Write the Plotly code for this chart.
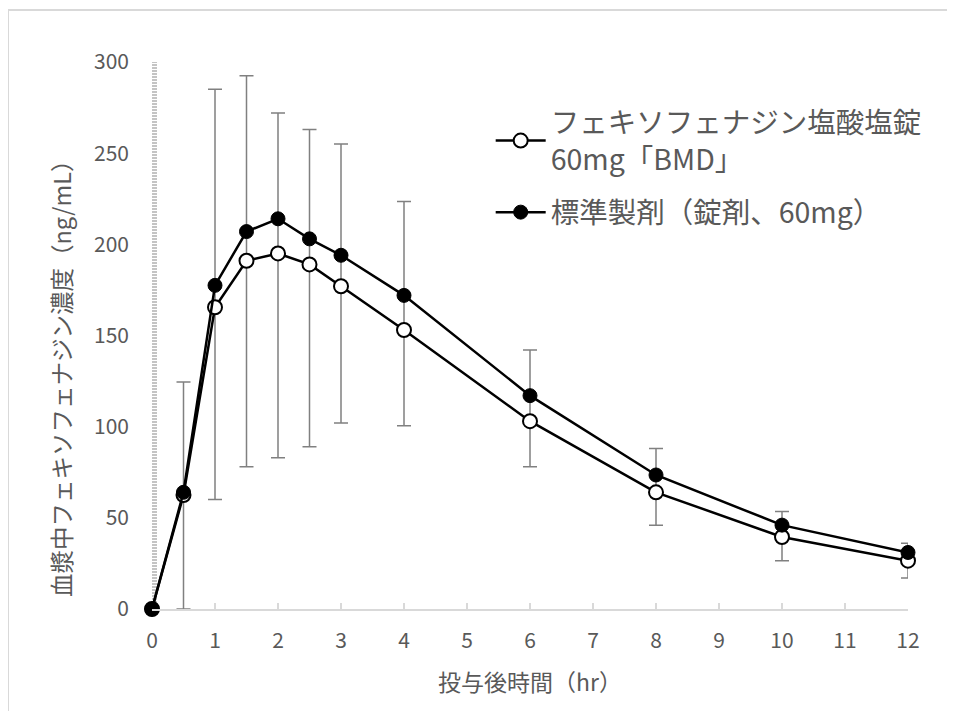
import plotly.graph_objects as go

# ---- data ----
time_hr = [0, 0.5, 1, 1.5, 2, 2.5, 3, 4, 6, 8, 10, 12]
bmd_conc = [0, 62.5, 165.5, 191, 195, 189, 177, 153, 103, 64, 39.5, 26.5]
std_conc = [0, 64, 177.5, 207, 214, 203, 194, 172, 117, 73.5, 46, 31]

err_time = [0.5, 1, 1.5, 2, 2.5, 3, 4, 6, 8, 10, 12]
err_upper = [124.5, 285, 292.5, 272, 263, 255, 223.5, 142, 88, 53.5, 36]
err_lower = [0, 60, 78, 83, 89, 102, 100.5, 78, 46, 26.5, 17]

x_ticks = list(range(0, 13))
y_ticks = [0, 50, 100, 150, 200, 250, 300]

name_bmd = "フェキソフェナジン塩酸塩錠<br>60mg「BMD」"
name_std = "標準製剤（錠剤、60mg）"
x_title = "投与後時間（hr）"
y_title = "血漿中フェキソフェナジン濃度（ng/mL）"

FONT = "Noto Sans CJK JP"
GRAY = "#595959"

W, H = 947, 703
ML, MR, MT, MB = 144, 47, 54, 102
PW, PH = W - ML - MR, H - MT - MB

err_center = [std_conc[time_hr.index(t)] for t in err_time]

fig = go.Figure()

fig.add_trace(go.Scatter(
    x=err_time, y=err_center, mode="markers",
    marker=dict(size=1, color="rgba(0,0,0,0)"),
    error_y=dict(type="data", symmetric=False,
                 array=[u - c for u, c in zip(err_upper, err_center)],
                 arrayminus=[c - l for c, l in zip(err_center, err_lower)],
                 color="#808080", thickness=1.5, width=7),
    showlegend=False, hoverinfo="skip", cliponaxis=False,
))

fig.add_trace(go.Scatter(
    x=time_hr, y=bmd_conc, mode="lines+markers", name=name_bmd,
    legendgroup="bmd",
    line=dict(color="black", width=2.5),
    marker=dict(symbol="circle", size=14, color="white",
                line=dict(color="black", width=2)),
    cliponaxis=False,
))
fig.add_trace(go.Scatter(
    x=time_hr, y=std_conc, mode="lines+markers", name=name_std,
    legendgroup="std",
    line=dict(color="black", width=2.5),
    marker=dict(symbol="circle", size=14, color="black",
                line=dict(color="black", width=1)),
    cliponaxis=False,
))

# hatched y-axis line
fig.add_shape(type="line", xref="paper", yref="paper",
              x0=2.5 / PW, x1=2.5 / PW, y0=0, y1=1,
              line=dict(color="#c4c4c4", width=5, dash="2px,1px"), layer="below")
# outer chart border (left and top)
bx = -ML / PW
by = 1 + (MT - 2) / PH
fig.add_shape(type="line", xref="paper", yref="paper",
              x0=bx, x1=bx, y0=-0.3, y1=by,
              line=dict(color="#d9d9d9", width=2))
fig.add_shape(type="line", xref="paper", yref="paper",
              x0=bx, x1=1.2, y0=by, y1=by,
              line=dict(color="#d9d9d9", width=2))

# y-axis title
fig.add_annotation(text=y_title, textangle=-90, xref="paper", yref="paper",
                   x=(53 - ML) / PW, y=(PH - (373 - 8 - MT)) / PH,
                   xanchor="center", yanchor="middle", showarrow=False,
                   font=dict(size=23.5, color=GRAY, family=FONT))

fig.update_layout(
    width=W, height=H,
    margin=dict(l=ML, r=MR, t=MT, b=MB, autoexpand=False),
    paper_bgcolor="white", plot_bgcolor="white",
    font=dict(family=FONT, color=GRAY),
    showlegend=True,
    legend=dict(x=0.448, y=0.936, xanchor="left", yanchor="top",
                font=dict(size=28.5, color=GRAY, family=FONT),
                bgcolor="rgba(0,0,0,0)", itemwidth=50, tracegroupgap=13,
                traceorder="grouped"),
    xaxis=dict(range=[0, 12], tickvals=x_ticks, ticktext=[str(v) for v in x_ticks],
               showline=True, linecolor="#d9d9d9", linewidth=1.5,
               ticks="inside", ticklen=6, tickcolor="#d9d9d9", tickwidth=1.5,
               showgrid=False, zeroline=False, automargin=False,
               tickfont=dict(size=21, color=GRAY, family=FONT),
               ticklabelstandoff=12,
               title=dict(text=x_title, font=dict(size=23, color=GRAY, family=FONT),
                          standoff=22)),
    yaxis=dict(range=[0, 300], tickvals=y_ticks, ticktext=[str(v) for v in y_ticks],
               showline=False, ticks="", showgrid=False, zeroline=False,
               automargin=False,
               tickfont=dict(size=21, color=GRAY, family=FONT),
               ticklabelstandoff=22),
)

fig.write_html("out.html")
